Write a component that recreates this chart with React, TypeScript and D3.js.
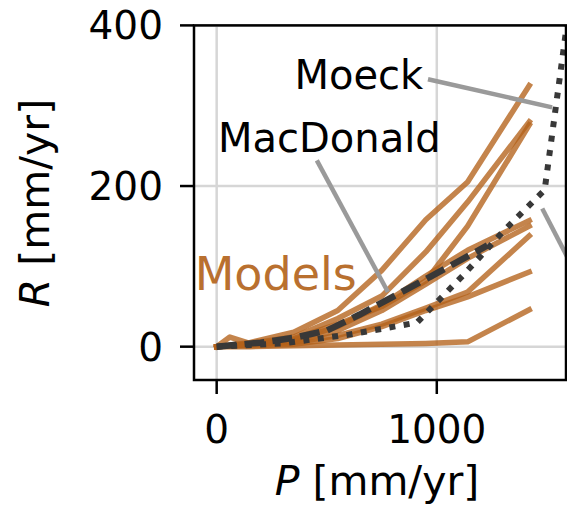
import * as d3 from 'd3'

// precipitation grid (mm/yr) shared by the model curves
const modelP = [0, 60, 150, 350, 550, 750, 950, 1140, 1420]
const modelA = [0, 2, 5, 18, 45, 95, 158, 205, 325]
const modelB = [0, 1, 4, 12, 35, 63, 118, 180, 280]
const modelC = [0, 1, 3, 10, 28, 50, 82, 150, 276]
const modelD = [0, 1, 2, 8, 25, 52, 88, 120, 157]
const modelE = [0, 1, 2, 6, 20, 45, 78, 110, 150]
const modelF = [0, 12, 4, 5, 14, 28, 48, 68, 138]
const modelG = [0, 1, 1, 3, 10, 25, 45, 62, 93]
const modelH = [0, 0, 0, 1, 2, 3, 4, 6, 46]
const models = [modelA, modelB, modelC, modelD, modelE, modelF, modelG, modelH]

const macP = [0, 200, 350, 500, 650, 800, 970, 1230]
const macR = [0, 5, 11, 20, 40, 62, 87, 126]

const moeckP = [0, 300, 600, 910, 1120, 1300, 1490, 1620]
const moeckR = [0, 4, 15, 30, 89, 143, 195, 460]

const xTicks = [0, 1000]
const yTicks = [0, 200, 400]

// annotation label anchors and connector lines, in data units
const moeckLabel = { P: 938, R: 321 }
const moeckLine = [[960, 333], [1524, 298]]
const macLabel = { P: 6, R: 242 }
const macLine = [[455, 232], [778, 68]]
const offLine = [[1479, 172], [1760, 23]]
const modelsLabel = { P: -100, R: 71 }

const W = 567
const H = 512
const FONT = 'DejaVu Sans, sans-serif'

export default function App() {
  const x = d3.scaleLinear().domain([-103, 1587]).range([194, 566])
  const y = d3.scaleLinear().domain([-41.5, 400]).range([380, 25.4])
  const [x0, x1] = x.range()
  const [y0, y1] = y.range()

  const line = d3.line<[number, number]>().x((d) => x(d[0])).y((d) => y(d[1]))
  const pairs = (ps: number[], rs: number[]) => ps.map((p, i) => [p, rs[i]] as [number, number])

  const brown = '#b3621a'
  const dark = '#383838'
  const gray = '#9a9a9a'

  return (
    <svg width={W} height={H} style={{ position: 'absolute', left: 0, top: 0, background: '#fff' }} fontFamily={FONT}>
      <defs>
        <clipPath id="plot">
          <rect x={x0} y={y1} width={x1 - x0} height={y0 - y1} />
        </clipPath>
      </defs>

      {/* grid */}
      {xTicks.map((t) => (
        <line key={'gx' + t} x1={x(t)} x2={x(t)} y1={y0} y2={y1} stroke="#d6d6d6" strokeWidth={2.5} />
      ))}
      {yTicks.map((t) => (
        <line key={'gy' + t} x1={x0} x2={x1} y1={y(t)} y2={y(t)} stroke="#d6d6d6" strokeWidth={2.5} />
      ))}

      <g clipPath="url(#plot)">
        {models.map((rs, i) => (
          <path key={i} d={line(pairs(modelP, rs)) ?? ''} fill="none" stroke={brown} strokeOpacity={0.78}
            strokeWidth={5.5} strokeLinejoin="round" strokeLinecap="square" />
        ))}
        <path d={line(pairs(macP, macR)) ?? ''} fill="none" stroke={dark} strokeWidth={6.5}
          strokeDasharray="20 8" />
        <path d={line(pairs(moeckP, moeckR)) ?? ''} fill="none" stroke={dark} strokeWidth={6}
          strokeDasharray="6 8.5" />
        <path d={line(moeckLine as [number, number][]) ?? ''} stroke={gray} strokeWidth={4.5} />
        <path d={line(macLine as [number, number][]) ?? ''} stroke={gray} strokeWidth={4.5} />
        <path d={line(offLine as [number, number][]) ?? ''} stroke={gray} strokeWidth={4.5} />
      </g>

      {/* spines */}
      <rect x={x0} y={y1} width={x1 - x0} height={y0 - y1} fill="none" stroke="#000" strokeWidth={2.5} />

      {/* ticks */}
      {xTicks.map((t) => (
        <g key={'tx' + t}>
          <line x1={x(t)} x2={x(t)} y1={y0} y2={y0 + 14} stroke="#000" strokeWidth={2.5} />
          <text x={x(t)} y={y0 + 63} textAnchor="middle" fontSize={39}>{t}</text>
        </g>
      ))}
      {yTicks.map((t) => (
        <g key={'ty' + t}>
          <line x1={x0} x2={x0 - 14} y1={y(t)} y2={y(t)} stroke="#000" strokeWidth={2.5} />
          <text x={x0 - 31} y={y(t)} dy="0.36em" textAnchor="end" fontSize={39}>{t}</text>
        </g>
      ))}

      {/* axis labels */}
      <text x={(x0 + 566) / 2 - 3} y={495} textAnchor="middle" fontSize={41}>
        <tspan fontStyle="italic">P</tspan> [mm/yr]
      </text>
      <text transform={`translate(49, 203) rotate(-90)`} textAnchor="middle" fontSize={41}>
        <tspan fontStyle="italic">R</tspan> [mm/yr]
      </text>

      {/* annotations */}
      <text x={x(moeckLabel.P)} y={y(moeckLabel.R)} textAnchor="end" fontSize={40}>Moeck</text>
      <text x={x(macLabel.P)} y={y(macLabel.R)} fontSize={40}>MacDonald</text>
      <text x={x(modelsLabel.P)} y={y(modelsLabel.R)} fontSize={46} fill="#b9702f">Models</text>
    </svg>
  )
}
